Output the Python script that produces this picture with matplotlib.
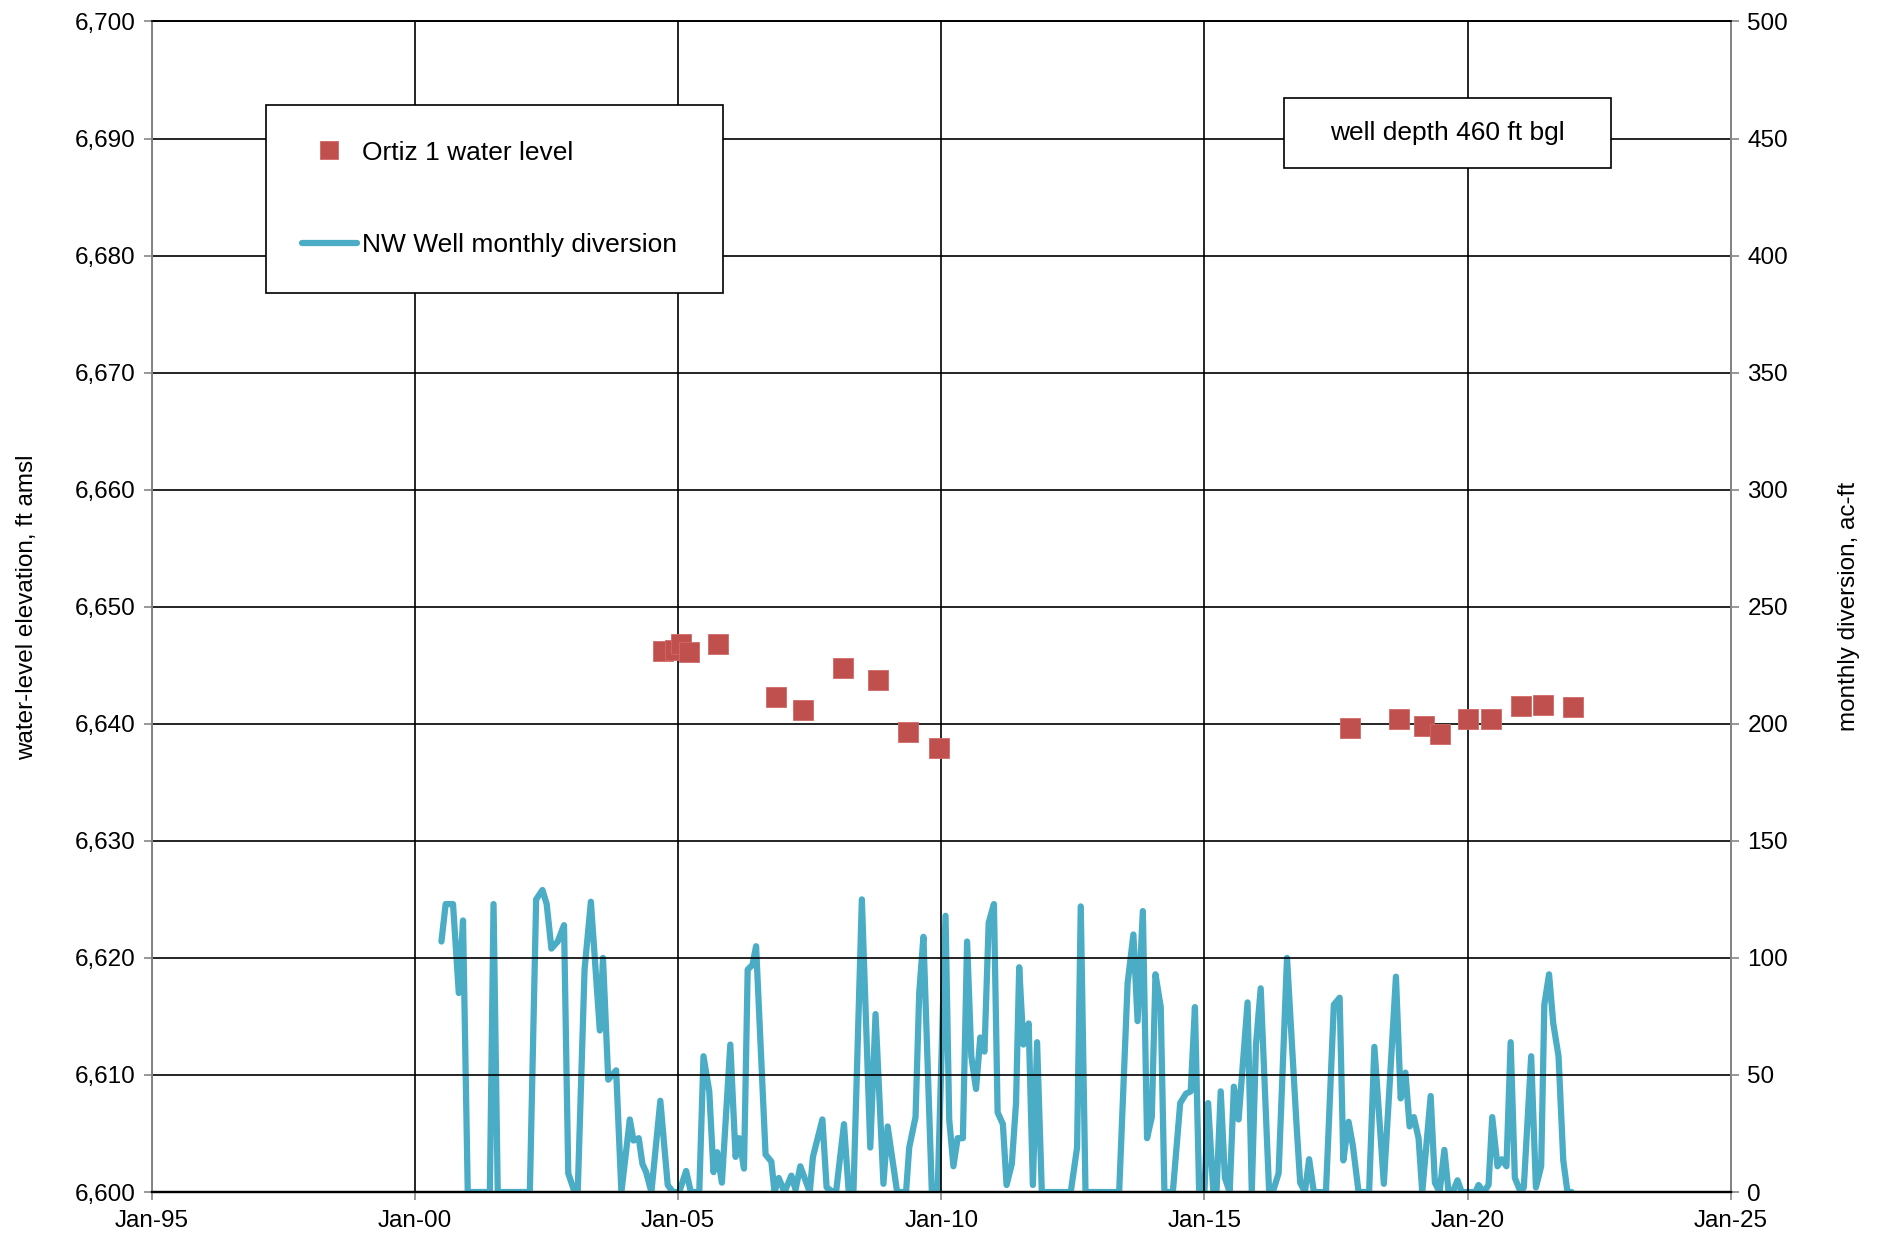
import matplotlib
matplotlib.use("Agg")
import matplotlib.pyplot as plt
from matplotlib.lines import Line2D
from matplotlib.patches import Rectangle
from matplotlib.ticker import FuncFormatter, MultipleLocator

plt.rcParams["font.family"] = ["Liberation Sans", "DejaVu Sans"]

# Ortiz 1 water level (decimal year, ft amsl)
wl_year = [2004.71, 2004.93, 2005.06, 2005.20, 2005.75, 2006.85, 2007.37,
           2008.13, 2008.79, 2009.36, 2009.96,
           2017.76, 2018.69, 2019.17, 2019.47, 2020.01, 2020.44,
           2021.01, 2021.43, 2022.01]
wl_elev = [6646.2, 6646.3, 6646.8, 6646.1, 6646.8, 6642.3, 6641.2,
           6644.8, 6643.7, 6639.3, 6637.9,
           6639.6, 6640.4, 6639.8, 6639.1, 6640.4, 6640.4,
           6641.5, 6641.6, 6641.4]

# NW Well monthly diversion (decimal year, ac-ft)
div_year = [2000.50, 2000.58, 2000.65, 2000.72, 2000.83, 2000.91, 2001.00, 2001.42,
            2001.49, 2001.57, 2002.18, 2002.30, 2002.42, 2002.50, 2002.59, 2002.71,
            2002.83, 2002.91, 2003.03, 2003.09, 2003.22, 2003.34, 2003.51, 2003.57,
            2003.67, 2003.82, 2003.92, 2004.08, 2004.15, 2004.25, 2004.32, 2004.39,
            2004.49, 2004.66, 2004.80, 2004.90, 2005.02, 2005.15, 2005.24, 2005.40,
            2005.48, 2005.59, 2005.67, 2005.74, 2005.83, 2005.99, 2006.09, 2006.16,
            2006.25, 2006.32, 2006.41, 2006.48, 2006.66, 2006.77, 2006.83, 2006.91,
            2007.02, 2007.15, 2007.23, 2007.32, 2007.50, 2007.56, 2007.74, 2007.82,
            2007.94, 2008.00, 2008.15, 2008.24, 2008.33, 2008.49, 2008.65, 2008.75,
            2008.90, 2008.98, 2009.16, 2009.33, 2009.39, 2009.51, 2009.58, 2009.66,
            2009.82, 2009.93, 2010.08, 2010.15, 2010.23, 2010.31, 2010.41, 2010.49,
            2010.57, 2010.66, 2010.74, 2010.82, 2010.90, 2011.00, 2011.07, 2011.17,
            2011.24, 2011.34, 2011.42, 2011.48, 2011.56, 2011.66, 2011.74, 2011.82,
            2011.91, 2012.46, 2012.58, 2012.65, 2012.74, 2013.38, 2013.54, 2013.65,
            2013.73, 2013.83, 2013.91, 2014.00, 2014.07, 2014.17, 2014.24, 2014.40,
            2014.54, 2014.65, 2014.74, 2014.82, 2014.90, 2015.00, 2015.07, 2015.17,
            2015.23, 2015.31, 2015.39, 2015.48, 2015.56, 2015.65, 2015.82, 2015.90,
            2015.98, 2016.07, 2016.23, 2016.30, 2016.41, 2016.57, 2016.75, 2016.82,
            2016.91, 2016.99, 2017.08, 2017.31, 2017.46, 2017.57, 2017.64, 2017.74,
            2017.82, 2017.93, 2018.13, 2018.23, 2018.41, 2018.64, 2018.73, 2018.82,
            2018.90, 2018.98, 2019.07, 2019.14, 2019.30, 2019.38, 2019.47, 2019.56,
            2019.64, 2019.72, 2019.81, 2019.89, 2020.15, 2020.21, 2020.31, 2020.40,
            2020.47, 2020.57, 2020.65, 2020.74, 2020.82, 2020.90, 2021.01, 2021.07,
            2021.21, 2021.30, 2021.40, 2021.46, 2021.55, 2021.63, 2021.73, 2021.82,
            2021.90, 2021.98]
div_acft = [107, 123, 123, 123, 85, 116, 0, 0,
            123, 0, 0, 125, 129, 123, 104, 107,
            114, 8, 0, 0, 95, 124, 69, 100,
            48, 52, 0, 31, 22, 23, 12, 8.5,
            0, 39, 3, 0, 0, 9, 0, 0,
            58, 43, 8.5, 17, 4, 63, 15, 23,
            10, 95, 97, 105, 16, 13, 0, 6,
            0, 7, 1, 11, 0, 15, 31, 2,
            0, 0, 29, 0, 0, 125, 19, 76,
            3.5, 28, 0, 0, 19, 32, 85, 109,
            0, 0, 118, 31, 11, 23, 23, 107,
            58, 44, 66, 60, 115, 123, 34, 29,
            3, 12, 38, 96, 63, 72, 3, 64,
            0, 0, 19, 122, 0, 0, 89, 110,
            73, 120, 23, 32, 93, 79, 0, 0,
            38, 42, 43, 79, 0, 0, 38, 0,
            0, 43, 6, 0, 45, 31, 81, 0,
            63, 87, 0, 0, 8, 100, 29, 4,
            0, 14, 0, 0, 80, 83, 13.5, 30,
            20, 0, 0, 62, 3.5, 92, 40, 51,
            28, 32, 23, 0, 41, 4, 0, 18,
            0, 0, 5, 0, 0, 3, 0, 3,
            32, 11, 14, 11, 64, 6, 0, 2,
            58, 2, 11, 80, 93, 72, 58, 13.5,
            0, 0]

year_ticks = [1995, 2000, 2005, 2010, 2015, 2020, 2025]
year_labels = ["Jan-95", "Jan-00", "Jan-05", "Jan-10", "Jan-15", "Jan-20", "Jan-25"]

red = "#C0504D"
aqua = "#4BACC6"
grey = "#868686"

fig = plt.figure(figsize=(18.77, 12.35), dpi=100)
ax = fig.add_axes([0.081, 0.0348, 0.841, 0.9478])
ax2 = ax.twinx()

# Diversion on the right axis, water level on the left axis above it
ax.set_zorder(ax2.get_zorder() + 1)
ax.patch.set_visible(False)

ax2.plot(div_year, div_acft, color=aqua, linewidth=4.5, solid_joinstyle="round",
         solid_capstyle="round", zorder=3)
ax.plot(wl_year, wl_elev, linestyle="none", marker="s", markersize=14.5,
        color=red, markeredgecolor="#D06A67", markeredgewidth=0.6, zorder=4)

ax.set_xlim(1995, 2025)
ax.set_ylim(6600, 6700)
ax2.set_ylim(0, 500)
ax.set_xticks(year_ticks)
ax.set_xticklabels(year_labels)
ax.yaxis.set_major_locator(MultipleLocator(10))
ax.yaxis.set_major_formatter(FuncFormatter(lambda v, p: f"{v:,.0f}"))
ax2.yaxis.set_major_locator(MultipleLocator(50))

ax.grid(True, color="black", linewidth=1.2)
ax.set_axisbelow(True)

for a in (ax, ax2):
    a.tick_params(axis="both", direction="out", length=6, width=1.2, color=grey,
                  labelsize=17.5, pad=6)
    a.spines["left"].set_color(grey)
    a.spines["right"].set_color(grey)
    a.spines["left"].set_linewidth(1.4)
    a.spines["right"].set_linewidth(1.4)
    a.spines["top"].set_color("black")
    a.spines["bottom"].set_color("black")
    a.spines["bottom"].set_linewidth(1.6)
    a.spines["top"].set_linewidth(1.2)
ax.tick_params(axis="x", pad=7)

ax.set_ylabel("water-level elevation, ft amsl", fontsize=17.5, labelpad=26)
ax2.set_ylabel("monthly diversion, ac-ft", fontsize=17.5, labelpad=36)

handles = [
    Line2D([], [], linestyle="none", marker="s", markersize=13, color=red,
           markeredgecolor="#D06A67", markeredgewidth=0.6),
    Line2D([], [], color=aqua, linewidth=4.5, solid_capstyle="round"),
]
leg = ax.legend(handles, ["Ortiz 1 water level", "NW Well monthly diversion"],
                loc="upper left", bbox_to_anchor=(0.0722, 0.9287, 0.2894, 0.0),
                mode="expand", fontsize=19, labelspacing=2.6, borderpad=1.35,
                handlelength=2.1, handletextpad=0.2, borderaxespad=0,
                fancybox=False, framealpha=1, edgecolor="black")
leg.get_frame().set_linewidth(1.2)

ax.add_patch(Rectangle((0.7169, 0.8748), 0.2071, 0.0598, transform=ax.transAxes,
                       facecolor="white", edgecolor="black", linewidth=1.2, zorder=5))
ax.text(0.8205, 0.9047, "well depth 460 ft bgl", transform=ax.transAxes,
        ha="center", va="center", fontsize=19, zorder=6)

fig.savefig("out.png", dpi=100)
